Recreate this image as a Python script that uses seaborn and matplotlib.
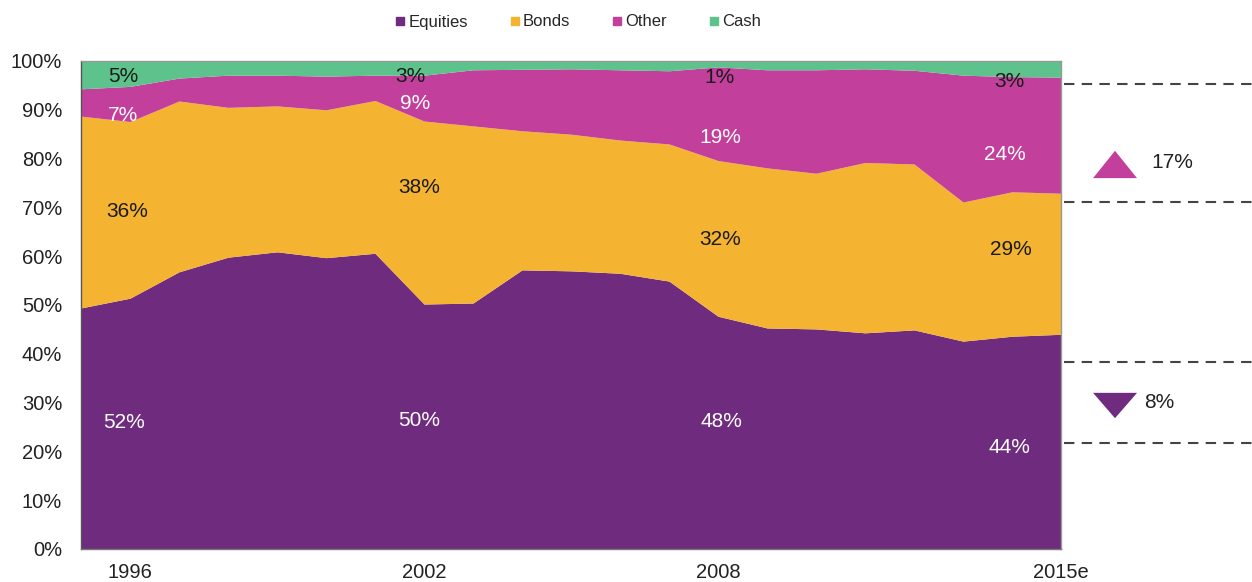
import numpy as np
import pandas as pd
import matplotlib
matplotlib.use('Agg')
import matplotlib.pyplot as plt
import matplotlib.transforms as mtransforms
from matplotlib.lines import Line2D
from matplotlib.patches import Polygon
import seaborn as sns

# ---- data (share of portfolio, %) ----
years = list(range(1995, 2016))
equities = [49.4, 51.4, 56.8, 59.8, 60.9, 59.7, 60.6, 50.2, 50.4, 57.2, 57.0,
            56.5, 54.9, 47.7, 45.3, 45.1, 44.3, 44.9, 42.6, 43.6, 44.0]
bonds = [39.3, 36.2, 35.0, 30.7, 29.9, 30.3, 31.3, 37.5, 36.3, 28.5, 28.0,
         27.3, 28.1, 31.9, 32.8, 31.9, 34.9, 34.0, 28.5, 29.6, 28.9]
other = [5.6, 7.2, 4.7, 6.6, 6.3, 6.9, 5.2, 9.4, 11.5, 12.6, 13.4,
         14.4, 15.0, 19.2, 20.1, 21.2, 19.2, 19.2, 26.0, 23.6, 23.8]
cash = [5.7, 5.2, 3.5, 2.9, 2.9, 3.1, 2.9, 2.9, 1.8, 1.7, 1.6,
        1.8, 2.0, 1.2, 1.8, 1.8, 1.6, 1.9, 2.9, 3.2, 3.3]

series_names = ['Equities', 'Bonds', 'Other', 'Cash']
tick_years = [1996, 2002, 2008, 2015]
tick_labels = ['1996', '2002', '2008', '2015e']

# labels written on the bands
label_text = ['5%', '7%', '36%', '52%',
              '3%', '9%', '38%', '50%',
              '1%', '19%', '32%', '48%',
              '3%', '24%', '29%', '44%']
label_x = [1995.86, 1995.86, 1995.94, 1995.88,
           2001.72, 2001.82, 2001.9, 2001.9,
           2008.04, 2008.04, 2008.04, 2008.08,
           2013.94, 2013.86, 2013.98, 2013.94]
label_y = [96.9, 88.9, 69.1, 26.0,
           96.9, 91.2, 74.0, 26.4,
           96.7, 84.4, 63.5, 26.2,
           95.9, 80.9, 61.3, 20.7]
label_white = [False, True, False, True] * 4

# change markers on the right
dash_levels = [95.2, 71.2, 38.3, 21.7]
change_other = '17%'
change_equities = '8%'

colors = ['#6F2C7E', '#F4B330', '#C2409B', '#5DC28B']

df = pd.DataFrame({'year': years, 'Equities': equities, 'Bonds': bonds,
                   'Other': other, 'Cash': cash})

sns.set_theme(style='white')
plt.rcParams['font.family'] = ['Liberation Sans', 'DejaVu Sans']

fig = plt.figure(figsize=(12.52, 5.82), dpi=100)
ax = fig.add_axes([81 / 1252, 33 / 582, 980 / 1252, 488 / 582])

ax.stackplot(df['year'], [df[c] for c in series_names], colors=colors,
             labels=series_names, linewidth=0)

ax.set_xlim(1995, 2015)
ax.set_ylim(0, 100)
ax.set_yticks(range(0, 101, 10))
ax.set_yticklabels([f'{v}%' for v in range(0, 101, 10)])
ax.set_xticks(tick_years)
ax.set_xticklabels(tick_labels)
ax.tick_params(axis='y', length=0, pad=13.5, labelsize=14.5, labelcolor='#222222')
ax.tick_params(axis='x', length=0, pad=10, labelsize=14.5, labelcolor='#222222')
for s in ax.spines.values():
    s.set_color('#999999')
    s.set_linewidth(1)
ax.spines['left'].set_color('#555555')
ax.spines['bottom'].set_color('#777777')

for t, x, y, w in zip(label_text, label_x, label_y, label_white):
    ax.text(x, y, t, ha='center', va='center', fontsize=15,
            color='white' if w else '#1a1a1a')

# dashed guide lines and change markers to the right of the plot
trans = mtransforms.blended_transform_factory(ax.transAxes, ax.transData)
for lv in dash_levels:
    ax.plot([1.003, 1.2], [lv, lv], transform=trans, clip_on=False,
            color='#444444', linestyle=(0, (5, 3.5)), linewidth=1.5)

up = Polygon([[1.0327, 76.0], [1.0776, 76.0], [1.0551, 81.6]], closed=True,
             transform=trans, clip_on=False, facecolor=colors[2], edgecolor='none')
down = Polygon([[1.0327, 32.0], [1.0776, 32.0], [1.0551, 26.8]], closed=True,
               transform=trans, clip_on=False, facecolor=colors[0], edgecolor='none')
ax.add_patch(up)
ax.add_patch(down)
ax.text(1.0918, 79.1, change_other, transform=trans, ha='left', va='center',
        fontsize=15, color='#222222')
ax.text(1.0846, 30.1, change_equities, transform=trans, ha='left', va='center',
        fontsize=15, color='#222222')

# legend on top
handles = [Line2D([0], [0], marker='s', linestyle='none', markersize=6,
                  markerfacecolor=c, markeredgecolor=c) for c in colors]
fig.legend(handles, series_names, loc='center', bbox_to_anchor=(578 / 1252, 1 - 22 / 582),
           ncol=4, frameon=False, fontsize=12, handlelength=0.6,
           handletextpad=0.2, columnspacing=2.5)

fig.savefig('out.png', dpi=100)
